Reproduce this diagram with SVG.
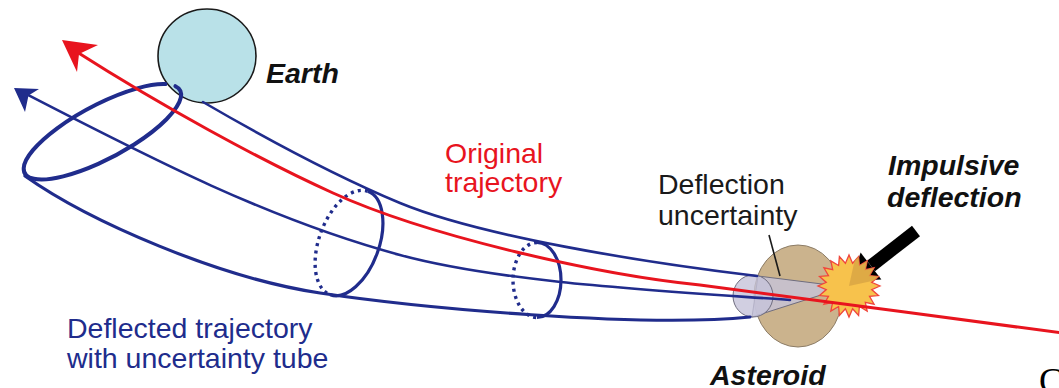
<svg xmlns="http://www.w3.org/2000/svg" width="1059" height="388" viewBox="0 0 1059 388">
  <style>
    .lbl { font-family: "Liberation Sans", Arial, Helvetica, sans-serif; font-size: 28.5px; }
    .bi { font-weight: bold; font-style: italic; fill: #111111; }
    .tube { fill: none; stroke: #202C8C; stroke-linecap: round; }
    .ring { fill: none; stroke: #202C8C; stroke-width: 3.2; }
    .ring-back { fill: none; stroke: #202C8C; stroke-width: 3.4; stroke-dasharray: 3 4.2; }
    .red { fill: none; stroke: #E8141E; stroke-width: 3; }
    .cone { fill: #C6C3DA; fill-opacity: 0.8; stroke: #6E6C7E; stroke-width: 1; }
  </style>
  <defs>
    <clipPath id="burst-clip">
      <polygon points="880,286 871.7,289.6 878.5,295.6 869.5,296.4 874.1,304.2 865.3,302.3 867.2,311.1 859.4,306.5 858.6,315.5 852.6,308.7 849,317 845.4,308.7 839.4,315.5 838.6,306.5 830.8,311.1 832.7,302.3 823.9,304.2 828.5,296.4 819.5,295.6 826.3,289.6 818,286 826.3,282.4 819.5,276.4 828.5,275.6 823.9,267.8 832.7,269.7 830.8,260.9 838.6,265.5 839.4,256.5 845.4,263.3 849,255 852.6,263.3 858.6,256.5 859.4,265.5 867.2,260.9 865.3,269.7 874.1,267.8 869.5,275.6 878.5,276.4 871.7,282.4"/>
    </clipPath>
  </defs>

  <rect width="1059" height="388" fill="#FFFFFF"/>

  <!-- Earth -->
  <g id="earth">
    <ellipse cx="207" cy="56" rx="49" ry="47" fill="#B9E1E8" stroke="#1A1A1A" stroke-width="1.6"/>
  </g>

  <!-- near-Earth cross-section of the tube (partly behind the planet) -->
  <g id="tube-mouth">
    <path class="tube" stroke-width="4" d="M 175.4,86.2 A 88 27 -28 1 1 165.4,84.1"/>
  </g>

  <!-- Asteroid with deflection cone -->
  <g id="asteroid">
    <ellipse cx="798" cy="296" rx="44" ry="51" fill="#CBB38D" stroke="#8C7C66" stroke-width="1"/>
    <path class="cone" d="M 758,276 L 846,287 L 752,317 Z"/>
    <ellipse class="cone" cx="753" cy="296" rx="20" ry="21"/>
  </g>

  <g id="connectors">
    <!-- deflected trajectory and uncertainty tube -->
    <path class="tube" stroke-width="2.6" d="M 203,102 C 270,141 340,178 400,203 C 480,236 640,262 757,276"/>
    <path class="tube" stroke-width="2.6" d="M 28,95 C 150,158 270,220 400,255 C 500,282 650,290 790,300"/>
    <path class="tube" stroke-width="3.2" d="M 25,176 C 90,222 220,278 320,293 C 420,308 640,328 750,317"/>
    <polygon points="14,88 39,89 28.5,95.5 25,112" fill="#202C8C"/>

    <!-- tube cross-sections -->
    <path class="ring" d="M 367.8,191.3 A 30 55 20 0 1 330.2,294.7"/>
    <path class="ring-back" d="M 367.8,191.3 A 30 55 20 0 0 330.2,294.7"/>
    <path class="ring" d="M 537,242.5 A 24 37.5 0 0 1 537,317.5"/>
    <path class="ring-back" d="M 537,242.5 A 24 37.5 0 0 0 537,317.5"/>

    <!-- pointer for the deflection uncertainty label -->
    <line x1="769" y1="235" x2="780" y2="276" stroke="#1A1A1A" stroke-width="1.6"/>

    <!-- impulse arrow -->
    <line x1="916" y1="231" x2="871" y2="266" stroke="#000000" stroke-width="13"/>
    <polygon points="860.6,252.6 881.4,279.4 851,281" fill="#000000"/>
  </g>

  <!-- impact flash -->
  <g id="impact">
    <polygon points="880,286 871.7,289.6 878.5,295.6 869.5,296.4 874.1,304.2 865.3,302.3 867.2,311.1 859.4,306.5 858.6,315.5 852.6,308.7 849,317 845.4,308.7 839.4,315.5 838.6,306.5 830.8,311.1 832.7,302.3 823.9,304.2 828.5,296.4 819.5,295.6 826.3,289.6 818,286 826.3,282.4 819.5,276.4 828.5,275.6 823.9,267.8 832.7,269.7 830.8,260.9 838.6,265.5 839.4,256.5 845.4,263.3 849,255 852.6,263.3 858.6,256.5 859.4,265.5 867.2,260.9 865.3,269.7 874.1,267.8 869.5,275.6 878.5,276.4 871.7,282.4" fill="#F7C24C" stroke="#F0463C" stroke-width="1.3" stroke-linejoin="miter"/>
    <polygon points="849,286 858,245 895,276" fill="#D9A644" clip-path="url(#burst-clip)" opacity="0.85"/>
  </g>

  <!-- original trajectory -->
  <g id="original-trajectory">
    <path class="red" d="M 77,52 C 160,105 260,160 333,193 C 430,237 600,275 700,285 C 800,298 950,318 1062,333"/>
    <polygon points="62,40 98,45 79,54 77,72" fill="#E8141E"/>
  </g>

  <!-- labels -->
  <g id="labels">
    <text class="lbl bi" x="266" y="83">Earth</text>
    <text class="lbl" x="445" y="163" fill="#E8141E">Original</text>
    <text class="lbl" x="445" y="192" fill="#E8141E">trajectory</text>
    <text class="lbl" x="658" y="194" fill="#1A1A1A">Deflection</text>
    <text class="lbl" x="658" y="225" fill="#1A1A1A">uncertainty</text>
    <text class="lbl bi" x="888" y="175">Impulsive</text>
    <text class="lbl bi" x="887" y="207">deflection</text>
    <text class="lbl bi" x="710" y="385">Asteroid</text>
    <text class="lbl" x="67" y="338" fill="#202C8C">Deflected trajectory</text>
    <text class="lbl" x="67" y="368" fill="#202C8C">with uncertainty tube</text>
    <text x="1039" y="393" font-family="'Liberation Serif', 'Times New Roman', serif" font-size="36" fill="#000000">C</text>
  </g>
</svg>
